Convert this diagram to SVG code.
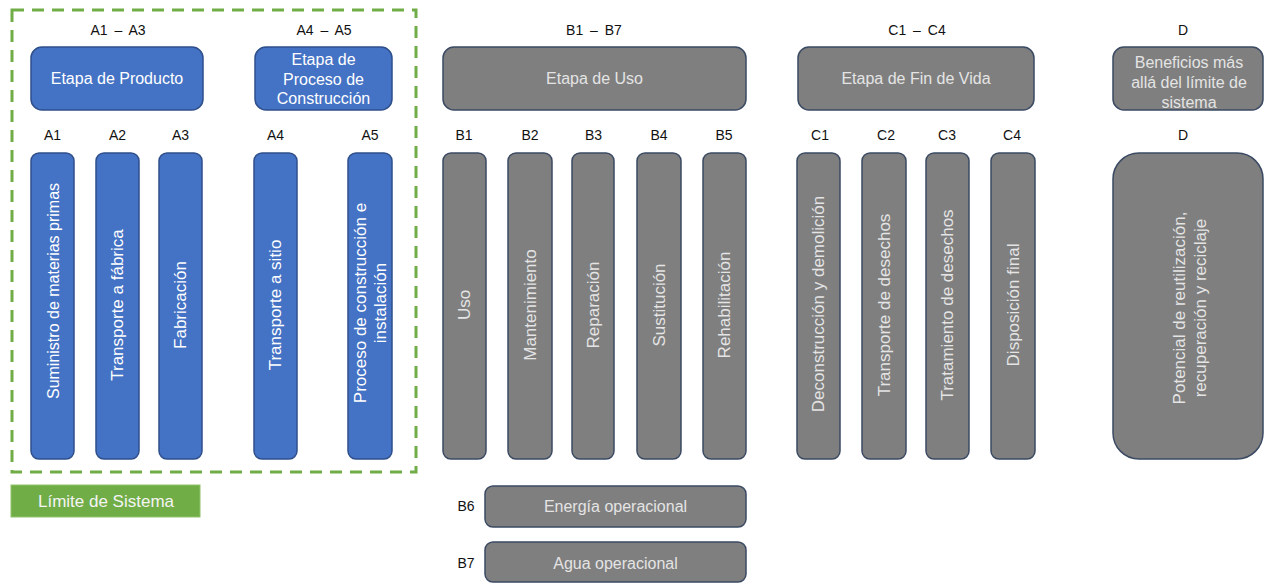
<svg xmlns="http://www.w3.org/2000/svg" width="1264" height="583" viewBox="0 0 1264 583">
<style>
  text { font-family: "Liberation Sans", Arial, sans-serif; }
  .bg { fill: #ffffff; }
  .blue { fill: #4472c4; stroke: #2f4f8a; stroke-width: 1.5; }
  .gray { fill: #7f7f7f; stroke: #3b4a63; stroke-width: 1.5; }
  .wt { fill: #ffffff; font-size: 16px; text-anchor: middle; dominant-baseline: central; }
  .gt { fill: #e4e4e4; font-size: 16px; text-anchor: middle; dominant-baseline: central; }
  .vw { fill: #ffffff; font-size: 17px; text-anchor: middle; dominant-baseline: central; }
  .vg { fill: #e4e4e4; font-size: 17px; text-anchor: middle; dominant-baseline: central; }
  .lbl { fill: #111111; font-size: 14px; text-anchor: middle; dominant-baseline: central; }
  .hdr { fill: #111111; font-size: 14px; text-anchor: middle; dominant-baseline: central; word-spacing: 3px; }
  .bound { fill: none; stroke: #70ad47; stroke-width: 3; stroke-dasharray: 12 8; }
  .legend { fill: #70ad47; stroke: #8fc46a; stroke-width: 1; }
  .legt { fill: #f4f4f4; font-size: 17px; text-anchor: middle; dominant-baseline: central; }
</style>
<rect class="bg" x="0" y="0" width="1264" height="583"/>

<g id="boundary">
  <rect class="bound" x="12" y="10" width="404" height="462"/>
</g>
<g id="legend">
  <rect class="legend" x="11" y="485" width="189" height="32"/>
  <text class="legt" x="106" y="501">Límite de Sistema</text>
</g>

<g id="headers">
  <text class="hdr" x="118" y="30">A1 – A3</text>
  <text class="hdr" x="324" y="30">A4 – A5</text>
  <text class="hdr" x="594" y="30">B1 – B7</text>
  <text class="hdr" x="917" y="30">C1 – C4</text>
  <text class="lbl" x="1183" y="30">D</text>
</g>

<g id="stage-product">
  <rect class="blue" x="31" y="47" width="172" height="63" rx="11"/>
  <text class="wt" x="117" y="78.5">Etapa de Producto</text>
</g>
<g id="stage-construction">
  <rect class="blue" x="255" y="47" width="137" height="63" rx="11"/>
  <text class="wt" x="323.5" y="59.5">Etapa de</text>
  <text class="wt" x="323.5" y="79">Proceso de</text>
  <text class="wt" x="323.5" y="98.5">Construcción</text>
</g>
<g id="stage-use">
  <rect class="gray" x="443" y="47" width="303" height="63" rx="11"/>
  <text class="gt" x="594.5" y="78.5">Etapa de Uso</text>
</g>
<g id="stage-eol">
  <rect class="gray" x="798" y="47" width="236" height="63" rx="11"/>
  <text class="gt" x="916" y="78.5">Etapa de Fin de Vida</text>
</g>
<g id="stage-d">
  <rect class="gray" x="1113" y="47" width="150" height="63" rx="11"/>
  <text class="gt" x="1189" y="62">Beneficios más</text>
  <text class="gt" x="1189" y="82">allá del límite de</text>
  <text class="gt" x="1189" y="102">sistema</text>
</g>

<g id="module-labels">
  <text class="lbl" x="52.5" y="135">A1</text>
  <text class="lbl" x="117.5" y="135">A2</text>
  <text class="lbl" x="180.5" y="135">A3</text>
  <text class="lbl" x="275.5" y="135">A4</text>
  <text class="lbl" x="370" y="135">A5</text>
  <text class="lbl" x="464" y="135">B1</text>
  <text class="lbl" x="530" y="135">B2</text>
  <text class="lbl" x="593.5" y="135">B3</text>
  <text class="lbl" x="659" y="135">B4</text>
  <text class="lbl" x="724" y="135">B5</text>
  <text class="lbl" x="820" y="135">C1</text>
  <text class="lbl" x="886" y="135">C2</text>
  <text class="lbl" x="947" y="135">C3</text>
  <text class="lbl" x="1012" y="135">C4</text>
  <text class="lbl" x="1183" y="135">D</text>
  <text class="lbl" x="466" y="506">B6</text>
  <text class="lbl" x="466" y="563">B7</text>
</g>

<g id="A1">
  <rect class="blue" x="31" y="153" width="43" height="306" rx="8"/>
  <text class="vw" style="font-size:16px" transform="translate(53,291) rotate(-90)">Suministro de materias primas</text>
</g>
<g id="A2">
  <rect class="blue" x="96" y="153" width="43" height="306" rx="8"/>
  <text class="vw" transform="translate(117.5,305) rotate(-90)">Transporte a fábrica</text>
</g>
<g id="A3">
  <rect class="blue" x="159" y="153" width="43" height="306" rx="8"/>
  <text class="vw" transform="translate(180.5,305) rotate(-90)">Fabricación</text>
</g>
<g id="A4">
  <rect class="blue" x="254" y="153" width="43" height="306" rx="8"/>
  <text class="vw" transform="translate(275.5,305) rotate(-90)">Transporte a sitio</text>
</g>
<g id="A5">
  <rect class="blue" x="348" y="153" width="44" height="306" rx="8"/>
  <text class="vw" transform="translate(370,303) rotate(-90)"><tspan x="0" y="-10">Proceso de construcción e</tspan><tspan x="0" y="10">instalación</tspan></text>
</g>

<g id="B1">
  <rect class="gray" x="443" y="153" width="43" height="306" rx="8"/>
  <text class="vg" transform="translate(464.5,305) rotate(-90)">Uso</text>
</g>
<g id="B2">
  <rect class="gray" x="508" y="153" width="44" height="306" rx="8"/>
  <text class="vg" transform="translate(530,305) rotate(-90)">Mantenimiento</text>
</g>
<g id="B3">
  <rect class="gray" x="572" y="153" width="42" height="306" rx="8"/>
  <text class="vg" transform="translate(593,305) rotate(-90)">Reparación</text>
</g>
<g id="B4">
  <rect class="gray" x="637" y="153" width="44" height="306" rx="8"/>
  <text class="vg" transform="translate(659,305) rotate(-90)">Sustitución</text>
</g>
<g id="B5">
  <rect class="gray" x="703" y="153" width="43" height="306" rx="8"/>
  <text class="vg" transform="translate(724.5,305) rotate(-90)">Rehabilitación</text>
</g>

<g id="C1">
  <rect class="gray" x="797" y="153" width="43" height="306" rx="8"/>
  <text class="vg" transform="translate(818.5,304) rotate(-90)">Deconstrucción y demolición</text>
</g>
<g id="C2">
  <rect class="gray" x="862" y="153" width="44" height="306" rx="8"/>
  <text class="vg" transform="translate(884,305) rotate(-90)">Transporte de desechos</text>
</g>
<g id="C3">
  <rect class="gray" x="926" y="153" width="43" height="306" rx="8"/>
  <text class="vg" transform="translate(947.5,305) rotate(-90)">Tratamiento de desechos</text>
</g>
<g id="C4">
  <rect class="gray" x="991" y="153" width="44" height="306" rx="8"/>
  <text class="vg" transform="translate(1013,305) rotate(-90)">Disposición final</text>
</g>

<g id="D">
  <rect class="gray" x="1113" y="153" width="150" height="306" rx="26"/>
  <text class="vg" transform="translate(1189,308) rotate(-90)"><tspan x="0" y="-10.5">Potencial de reutilización,</tspan><tspan x="0" y="10.5">recuperación y reciclaje</tspan></text>
</g>

<g id="B6">
  <rect class="gray" x="485" y="486" width="261" height="41" rx="8"/>
  <text class="gt" x="615.5" y="506">Energía operacional</text>
</g>
<g id="B7">
  <rect class="gray" x="485" y="542" width="261" height="40" rx="8"/>
  <text class="gt" x="615.5" y="563">Agua operacional</text>
</g>

<g id="connectors"></g>
</svg>
